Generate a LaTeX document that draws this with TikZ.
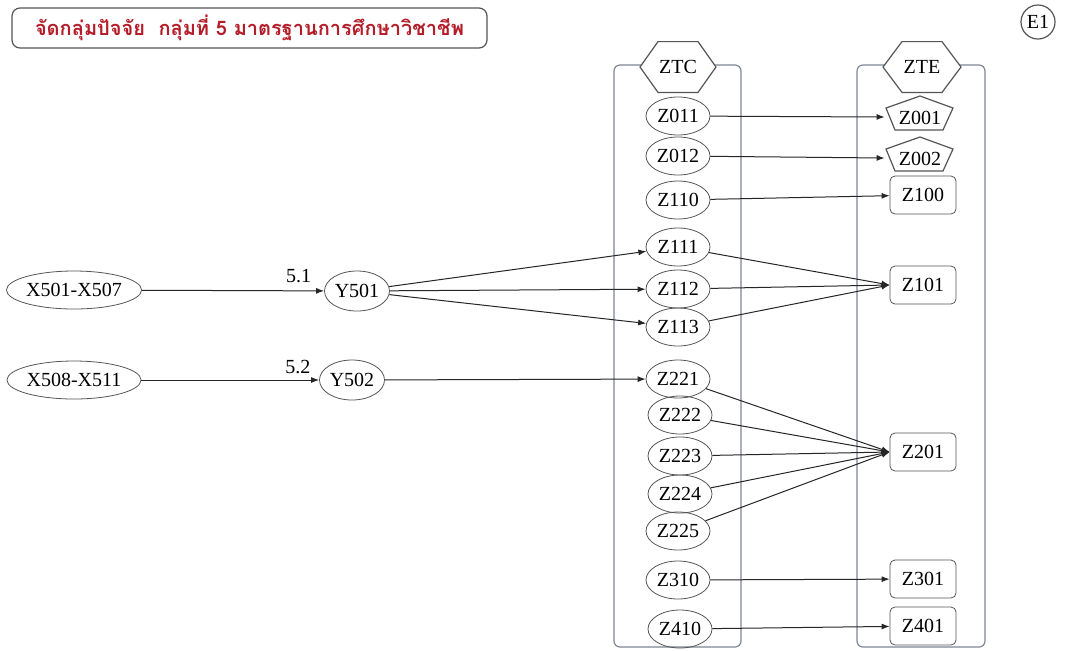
\documentclass[tikz,border=0pt]{standalone}
\usepackage{fontspec}
\setmainfont{Liberation Serif}
\newfontfamily\thaifont[Script=Thai]{Loma}
\usetikzlibrary{shapes.geometric,arrows.meta}
\definecolor{titlered}{RGB}{180,28,40}
\definecolor{boxline}{RGB}{85,85,85}
\definecolor{contline}{RGB}{125,135,150}
\tikzset{
  every node/.style={font=\fontsize{10}{12}\selectfont, text=black},
  ell/.style={ellipse, draw=boxline, inner sep=0pt, minimum width=32pt, minimum height=19pt},
  xell/.style={ellipse, draw=boxline, inner sep=0pt, minimum width=64pt, minimum height=19pt},
  yell/.style={ellipse, draw=boxline, inner sep=0pt, minimum width=32.5pt, minimum height=20pt},
  rbox/.style={rectangle, rounded corners=2.5pt, draw=boxline, inner sep=0pt, minimum width=33pt, minimum height=19pt},
  pent/.style={rectangle, inner sep=0pt, minimum width=35pt, minimum height=17pt},
  hexlabel/.style={rectangle, inner sep=0pt, minimum width=38pt, minimum height=25pt},
  cont/.style={draw=contline, rounded corners=3pt, line width=0.6pt},
  arr/.style={draw=black!85, line width=0.5pt, -{Latex[length=4pt,width=3pt]}},
  lab/.style={inner sep=1pt},
}
\begin{document}
\begin{tikzpicture}[x=0.5pt,y=-0.5pt]
\useasboundingbox[fill=white] (0,0) rectangle (1071,650);

% title
\node[draw=boxline, rounded corners=4pt, line width=0.6pt, minimum width=237.5pt, minimum height=20pt, inner sep=0pt,
      font=\thaifont\bfseries\fontsize{10}{12}\selectfont, text=titlered] (title) at (249.5,28)
  {จัดกลุ่มปัจจัย\ \ กลุ่มที่ 5 มาตรฐานการศึกษาวิชาชีพ};

% E1
\node[circle, draw=boxline, line width=0.6pt, minimum size=17pt, inner sep=0pt] (e1) at (1038,22) {E1};

% containers
\draw[cont] (614,65) rectangle (741,647);
\draw[cont] (857,65) rectangle (985,647);

% hexagons
\node[hexlabel] (ztc) at (678,67) {};
\draw[draw=boxline, fill=white, line width=0.6pt]
  ([xshift=-19pt]ztc.center) -- ([xshift=-10pt]ztc.north) -- ([xshift=10pt]ztc.north)
  -- ([xshift=19pt]ztc.center) -- ([xshift=10pt]ztc.south) -- ([xshift=-10pt]ztc.south) -- cycle;
\node at (ztc.center) {ZTC};
\node[hexlabel] (zte) at (922,67) {};
\draw[draw=boxline, fill=white, line width=0.6pt]
  ([xshift=-19.5pt]zte.center) -- ([xshift=-10pt]zte.north) -- ([xshift=10pt]zte.north)
  -- ([xshift=19.5pt]zte.center) -- ([xshift=10pt]zte.south) -- ([xshift=-10pt]zte.south) -- cycle;
\node at (zte.center) {ZTE};

% ZTC column
\node[ell] (z011) at (678,116) {Z011};
\node[ell] (z012) at (678,156) {Z012};
\node[ell] (z110) at (678,200) {Z110};
\node[ell] (z111) at (678,247) {Z111};
\node[ell] (z112) at (678,289) {Z112};
\node[ell] (z113) at (678,327) {Z113};
\node[ell] (z221) at (678,379) {Z221};
\node[ell] (z222) at (680,415) {Z222};
\node[ell] (z223) at (680,456) {Z223};
\node[ell] (z224) at (680,494) {Z224};
\node[ell] (z225) at (678,531) {Z225};
\node[ell] (z310) at (678,580) {Z310};
\node[ell] (z410) at (680,629) {Z410};

% ZTE column
\foreach \n/\y/\t in {z001/117/Z001, z002/158/Z002}{
  \node[pent] (\n) at (920,\y) {};
  \draw[draw=boxline, line width=0.6pt]
    ([yshift=10.5pt]\n.center) -- ([xshift=-17pt,yshift=4.5pt]\n.center)
    -- ([xshift=-12.5pt,yshift=-6.5pt]\n.center) -- ([xshift=11.5pt,yshift=-6.5pt]\n.center)
    -- ([xshift=16.5pt,yshift=4.5pt]\n.center) -- cycle;
  \node at ([yshift=-0.5pt]\n.center) {\t};
}
\node[rbox] (z100) at (923,195) {Z100};
\node[rbox] (z101) at (923,285) {Z101};
\node[rbox] (z201) at (923,452) {Z201};
\node[rbox] (z301) at (923,579) {Z301};
\node[rbox] (z401) at (923,626) {Z401};

% left side
\node[xell] (x1) at (74,290) {X501-X507};
\node[yell] (y501) at (357,291) {Y501};
\node[xell] (x2) at (74,380) {X508-X511};
\node[yell] (y502) at (352,380) {Y502};

% connectors
\draw[arr] (x1) -- node[lab, pos=0.86, above=3pt] {5.1} (y501);
\draw[arr] (x2) -- node[lab, pos=0.88, above=2pt] {5.2} (y502);
\draw[arr] (y501) -- (z111);
\draw[arr] (y501) -- (z112);
\draw[arr] (y501) -- (z113);
\draw[arr] (y502) -- (z221);

\draw[arr] (z011) -- (z001.west);
\draw[arr] (z012) -- (z002.west);
\draw[arr] (z110) -- (z100);
\foreach \s in {z111,z112,z113} \draw[arr] (\s) -- (z101.west);
\foreach \s in {z221,z222,z223,z224,z225} \draw[arr] (\s) -- (z201.west);
\draw[arr] (z310) -- (z301);
\draw[arr] (z410) -- (z401);
\end{tikzpicture}
\end{document}
